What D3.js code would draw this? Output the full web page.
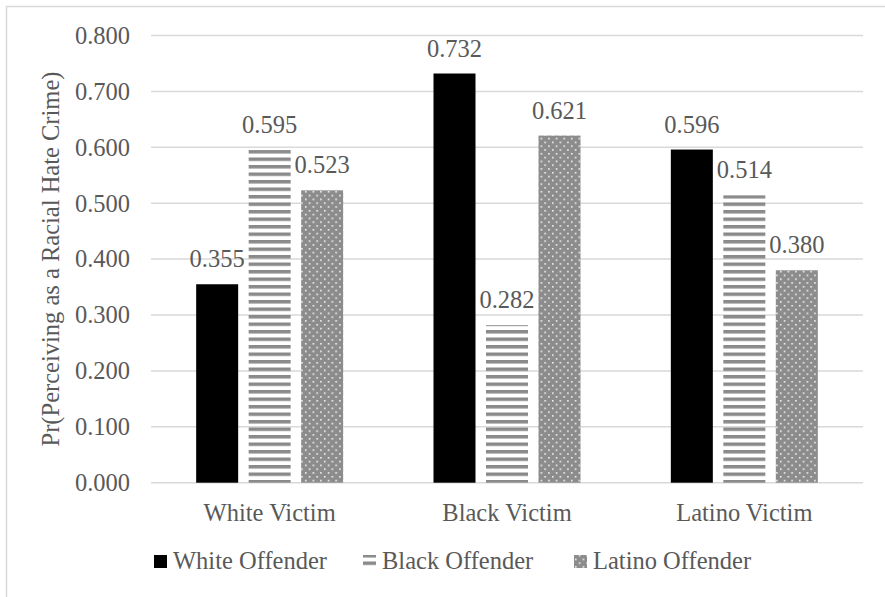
<!DOCTYPE html>
<html>
<head>
<meta charset="utf-8">
<script src="https://cdnjs.cloudflare.com/ajax/libs/d3/7.8.5/d3.min.js"></script>
<style>
	body { margin: 0; background: #ffffff; }
	svg { display: block; }
	svg text { font-family: "Liberation Serif", "Times New Roman", serif; }
</style>
</head>
<body>
<div id="chart"></div>
<script>
//Chart data
var categories = ['White Victim', 'Black Victim', 'Latino Victim'];
var seriesNames = ['White Offender', 'Black Offender', 'Latino Offender'];
var whiteOffender = [0.355, 0.732, 0.596];
var blackOffender = [0.595, 0.282, 0.514];
var latinoOffender = [0.523, 0.621, 0.380];
var yTicks = [0, 0.1, 0.2, 0.3, 0.4, 0.5, 0.6, 0.7, 0.8];
var yTitle = 'Pr(Perceiving as a Racial Hate Crime)';

var seriesValues = [whiteOffender, blackOffender, latinoOffender];
var fills = ['#000000', 'url(#stripes)', 'url(#dots)'];

var width = 885, height = 597;
var textColor = '#595959';
var fontFamily = 'Liberation Serif';
var fontSize = '24.5px';

var svg = d3.select('#chart').append('svg')
	.attr('width', width)
	.attr('height', height);

//Patterns
var defs = svg.append('defs');

var stripes = defs.append('pattern')
	.attr('id', 'stripes')
	.attr('patternUnits', 'userSpaceOnUse')
	.attr('width', 8)
	.attr('height', 7.5);
stripes.append('rect')
	.attr('x', 0).attr('y', 0)
	.attr('width', 8).attr('height', 3.5)
	.style('fill', '#8a8a8a');

var dots = defs.append('pattern')
	.attr('id', 'dots')
	.attr('patternUnits', 'userSpaceOnUse')
	.attr('width', 7.6)
	.attr('height', 7.6);
dots.append('rect')
	.attr('width', 7.6).attr('height', 7.6)
	.style('fill', '#8c8c8c');
dots.append('rect')
	.attr('x', 1).attr('y', 1)
	.attr('width', 1.5).attr('height', 1.5)
	.style('fill', '#ffffff');
dots.append('rect')
	.attr('x', 4.8).attr('y', 4.8)
	.attr('width', 1.5).attr('height', 1.5)
	.style('fill', '#ffffff');

//Chart border
svg.append('rect')
	.attr('x', 6.5)
	.attr('y', 6.5)
	.attr('width', width + 10)
	.attr('height', height + 10)
	.style('fill', 'none')
	.attr('stroke', '#d9d9d9')
	.attr('stroke-width', 1.5);

//Scales
var x0 = d3.scaleBand()
	.domain(categories)
	.range([151, 863]);

var x1 = d3.scaleBand()
	.domain(seriesNames)
	.range([-73.5, 73.5])
	.paddingInner(0.2);

var y = d3.scaleLinear()
	.domain([0, 0.8])
	.range([482.7, 35.5]);

//Gridlines
var grid = svg.append('g');
grid.selectAll('line')
	.data(yTicks)
	.enter()
	.append('line')
	.attr('x1', x0.range()[0])
	.attr('x2', x0.range()[1])
	.attr('y1', function(d) { return y(d); })
	.attr('y2', function(d) { return y(d); })
	.attr('stroke', '#d9d9d9')
	.attr('stroke-width', 1.5);

//Y axis labels
var yAxis = svg.append('g')
	.attr('transform', 'translate(151,0)')
	.call(d3.axisLeft(y).tickValues(yTicks).tickFormat(d3.format('.3f')).tickSize(0).tickPadding(21));
yAxis.attr('font-family', null).attr('font-size', null);
yAxis.select('.domain').remove();
yAxis.selectAll('text')
	.attr('font-family', fontFamily)
	.attr('font-size', fontSize)
	.attr('fill', textColor);

//X axis labels
var xAxis = svg.append('g')
	.attr('transform', 'translate(0,482.7)')
	.call(d3.axisBottom(x0).tickSize(0).tickPadding(21));
xAxis.attr('font-family', null).attr('font-size', null);
xAxis.select('.domain').remove();
xAxis.selectAll('text')
	.attr('font-family', fontFamily)
	.attr('font-size', fontSize)
	.attr('fill', textColor);

//Y axis title
svg.append('text')
	.attr('transform', 'translate(59,259) rotate(-90)')
	.attr('text-anchor', 'middle')
	.attr('font-family', fontFamily)
	.attr('font-size', fontSize)
	.attr('fill', textColor)
	.text(yTitle);

//Bars
var barData = [];
seriesNames.forEach(function(s, i) {
	categories.forEach(function(c, j) {
		barData.push({ series: s, cat: c, value: seriesValues[i][j], fill: fills[i] });
	});
});

var bars = svg.append('g');
bars.selectAll('rect')
	.data(barData)
	.enter()
	.append('rect')
	.attr('x', function(d) { return x0(d.cat) + x0.bandwidth() / 2 + x1(d.series); })
	.attr('y', function(d) { return y(d.value); })
	.attr('width', x1.bandwidth())
	.attr('height', function(d) { return y(0) - y(d.value); })
	.style('fill', function(d) { return d.fill; });

//Data labels
var labels = svg.append('g');
labels.selectAll('text')
	.data(barData)
	.enter()
	.append('text')
	.attr('x', function(d) { return x0(d.cat) + x0.bandwidth() / 2 + x1(d.series) + x1.bandwidth() / 2; })
	.attr('y', function(d) { return y(d.value) - 17; })
	.attr('text-anchor', 'middle')
	.attr('font-family', fontFamily)
	.attr('font-size', fontSize)
	.attr('fill', textColor)
	.text(function(d) { return d3.format('.3f')(d.value); });

//Legend
var legendX = [173, 382, 593];
var legend = svg.append('g');
var items = legend.selectAll('g')
	.data(seriesNames)
	.enter()
	.append('g')
	.attr('transform', function(d, i) { return 'translate(' + legendX[i] + ',569)'; });
items.append('rect')
	.attr('x', -19)
	.attr('y', -14)
	.attr('width', 13)
	.attr('height', 13)
	.style('fill', function(d, i) { return fills[i]; });
items.append('text')
	.attr('x', 0)
	.attr('y', 0)
	.attr('font-family', fontFamily)
	.attr('font-size', fontSize)
	.attr('fill', textColor)
	.text(function(d) { return d; });
</script>
</body>
</html>
